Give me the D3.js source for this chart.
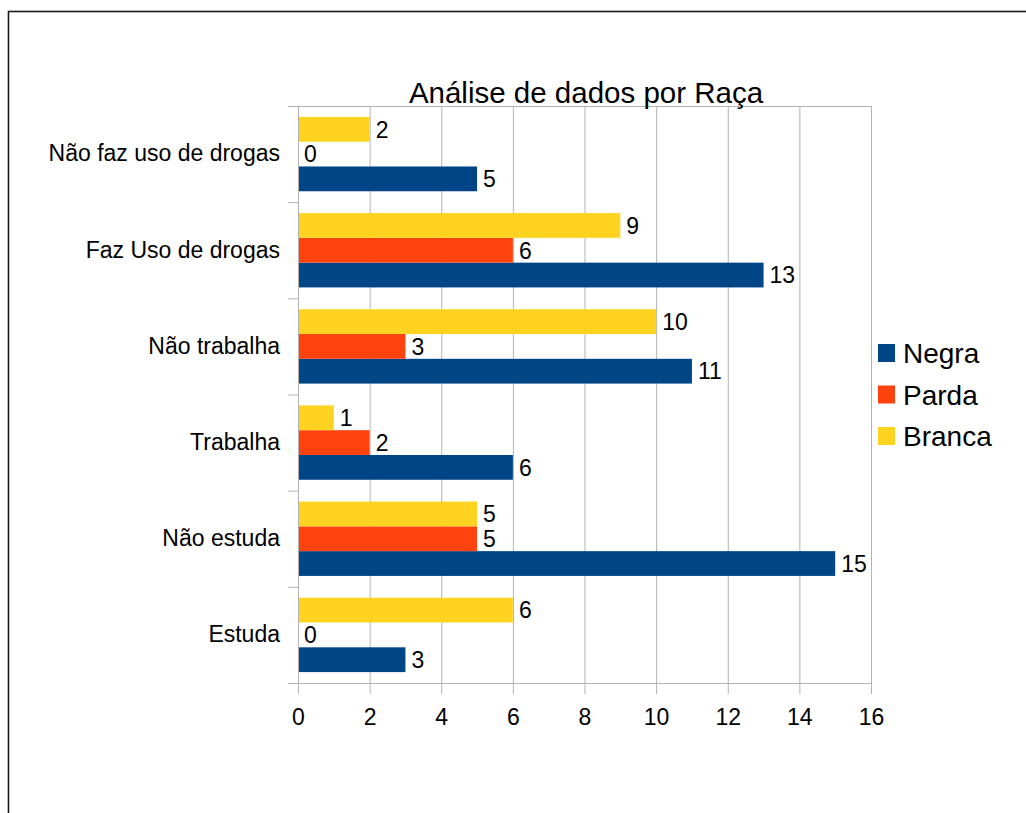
<!DOCTYPE html>
<html>
<head>
<meta charset="utf-8">
<script src="https://cdn.jsdelivr.net/npm/d3@7"></script>
<style>
  body { margin: 0; background: #fff; }
  svg text { font-family: "Liberation Sans", Arial, sans-serif; fill: #000; }
</style>
</head>
<body>
<svg id="chart" width="1026" height="813"></svg>
<script>
(function() {

  // categories, top to bottom as drawn
  const categories = ["Não faz uso de drogas", "Faz Uso de drogas", "Não trabalha", "Trabalha", "Não estuda", "Estuda"];
  const seriesNames = ["Negra", "Parda", "Branca"];
  const seriesColors = ["#004586", "#ff420e", "#ffd320"];

  // values per category (same order as categories)
  const negra  = [5, 13, 11, 6, 15, 3];
  const parda  = [0, 6, 3, 2, 5, 0];
  const branca = [2, 9, 10, 1, 5, 6];

  const xTicks = [0, 2, 4, 6, 8, 10, 12, 14, 16];
  const title = "Análise de dados por Raça";

  const seriesValues = { Negra: negra, Parda: parda, Branca: branca };
  const color = d3.scaleOrdinal().domain(seriesNames).range(seriesColors);

  const svg = d3.select("#chart");

  // outer frame of the chart (runs off the right and bottom of the window)
  svg.append("rect")
    .attr("x", 8.5).attr("y", 11.5)
    .attr("width", 1100).attr("height", 900)
    .attr("fill", "none")
    .attr("stroke", "#1a1a1a")
    .attr("stroke-width", 1.6);

  const plot = { left: 298, top: 106, right: 871, bottom: 683 };

  const x = d3.scaleLinear().domain([0, 16]).range([plot.left, plot.right]);
  const y = d3.scaleBand().domain(categories).range([plot.top, plot.bottom]).padding(0);
  // inside each category: Branca on top, Negra at the bottom
  const ySub = d3.scaleBand().domain(["Branca", "Parda", "Negra"])
    .range([0, y.bandwidth()]).paddingInner(0).paddingOuter(0.44);

  // vertical grid lines
  const grid = svg.append("g")
    .attr("transform", `translate(0,${plot.bottom})`)
    .call(d3.axisBottom(x).tickValues(xTicks).tickSize(-(plot.bottom - plot.top)).tickFormat(""));
  grid.select(".domain").remove();
  grid.selectAll("line").attr("stroke", "#b3b3b3");

  // plot frame top
  svg.append("line")
    .attr("x1", plot.left - 10).attr("x2", plot.right)
    .attr("y1", plot.top + 0.5).attr("y2", plot.top + 0.5)
    .attr("stroke", "#b3b3b3");

  // bars
  const rows = [];
  categories.forEach((c, i) => {
    seriesNames.forEach(s => rows.push({ cat: c, series: s, value: seriesValues[s][i] }));
  });

  svg.append("g").selectAll("rect")
    .data(rows)
    .enter()
    .append("rect")
    .attr("x", x(0))
    .attr("y", d => y(d.cat) + ySub(d.series))
    .attr("width", d => x(d.value) - x(0))
    .attr("height", ySub.bandwidth())
    .attr("fill", d => color(d.series));

  // value labels
  svg.append("g").selectAll("text")
    .data(rows)
    .enter()
    .append("text")
    .attr("x", d => x(d.value) + 6)
    .attr("y", d => y(d.cat) + ySub(d.series) + ySub.bandwidth() / 2)
    .attr("dy", "0.36em")
    .style("font-size", "23px")
    .text(d => d.value);

  // x axis
  const xAxis = svg.append("g")
    .attr("transform", `translate(0,${plot.bottom})`)
    .call(d3.axisBottom(x).tickValues(xTicks).tickSizeInner(11).tickSizeOuter(0).tickPadding(15));
  xAxis.select(".domain").attr("stroke", "#b3b3b3");
  xAxis.selectAll("line").attr("stroke", "#b3b3b3");
  xAxis.selectAll("text").style("font-size", "23px").style("font-family", "Liberation Sans, Arial, sans-serif");

  // y axis: labels centred on each band, ticks on band boundaries
  const yAxis = svg.append("g")
    .attr("transform", `translate(${plot.left},0)`)
    .call(d3.axisLeft(y).tickSize(0).tickPadding(18));
  yAxis.select(".domain").attr("stroke", "#b3b3b3");
  yAxis.selectAll("text").style("font-size", "23px").style("font-family", "Liberation Sans, Arial, sans-serif");

  svg.append("g").selectAll("line")
    .data(categories.slice(1).concat(["__end"]))
    .enter()
    .append("line")
    .attr("x1", plot.left - 10).attr("x2", plot.left)
    .attr("y1", d => d === "__end" ? plot.bottom + 0.5 : y(d) + 0.5)
    .attr("y2", d => d === "__end" ? plot.bottom + 0.5 : y(d) + 0.5)
    .attr("stroke", "#b3b3b3");

  // title
  svg.append("text")
    .attr("x", 586).attr("y", 103)
    .attr("text-anchor", "middle")
    .style("font-size", "29.5px")
    .text(title);

  // legend
  const legend = svg.append("g").attr("transform", "translate(878,344)");
  const item = legend.selectAll("g")
    .data(seriesNames)
    .enter()
    .append("g")
    .attr("transform", (d, i) => `translate(0,${i * 41.5})`);
  item.append("rect")
    .attr("width", 17).attr("height", 18)
    .attr("fill", d => color(d));
  item.append("text")
    .attr("x", 25).attr("y", 19)
    .style("font-size", "28px")
    .text(d => d);

})();
</script>
</body>
</html>
